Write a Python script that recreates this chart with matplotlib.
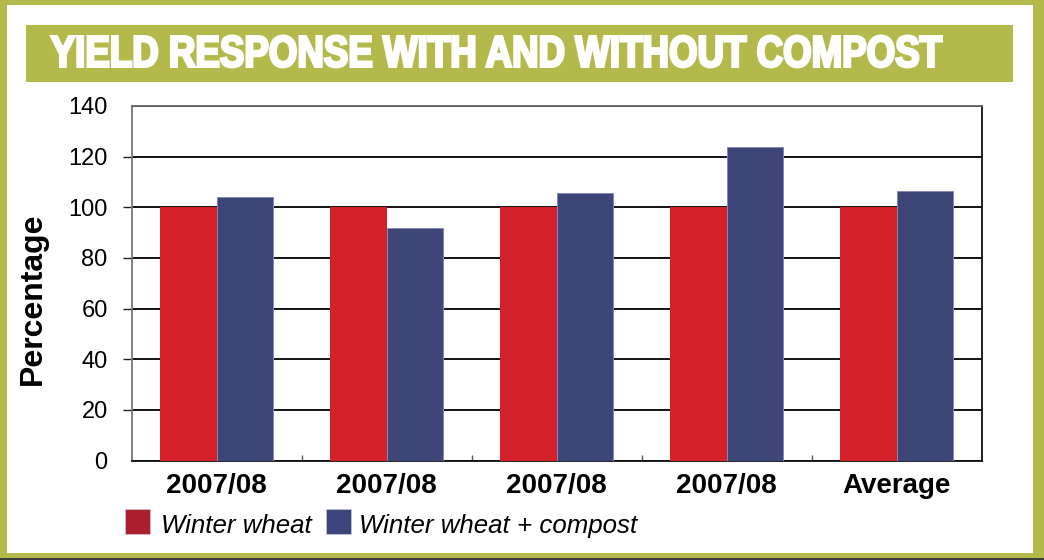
import matplotlib
matplotlib.use("Agg")
import matplotlib.pyplot as plt
from matplotlib.patches import Rectangle, PathPatch
from matplotlib.textpath import TextPath
from matplotlib.font_manager import FontProperties
from matplotlib.transforms import Affine2D
import numpy as np

# ---- data ----
categories = ["2007/08", "2007/08", "2007/08", "2007/08", "Average"]
winter_wheat = [100, 100, 100, 100, 100]
winter_wheat_compost = [104, 92, 105.5, 124, 106.3]
series_labels = ["Winter wheat", "Winter wheat + compost"]
yticks = [0, 20, 40, 60, 80, 100, 120, 140]
title = "YIELD RESPONSE WITH AND WITHOUT COMPOST"
ylabel = "Percentage"

OLIVE = "#b3ba4b"
RED = "#d32029"
BLUE = "#3d4579"
RED_LEG = "#ad1f2f"
BLUE_LEG = "#3c457b"

W, H = 1044, 560
fig = plt.figure(figsize=(W / 100, H / 100), dpi=100)

# overlay axes in pixel coordinates (y down)
bg = fig.add_axes([0, 0, 1, 1], zorder=0)
bg.set_xlim(0, W)
bg.set_ylim(H, 0)
bg.axis("off")
bg.add_patch(Rectangle((0, 0), W, H, facecolor=OLIVE, edgecolor="none"))
bg.add_patch(Rectangle((0, 557.5), W, 3, facecolor="#3a3a3a", edgecolor="none"))
bg.add_patch(Rectangle((7, 5), 1033 - 7, 553 - 5, facecolor="white", edgecolor="none"))
bg.add_patch(Rectangle((26, 25), 1013 - 26, 82 - 25, facecolor=OLIVE, edgecolor="none"))

# condensed heavy title through scaled text path
fp = FontProperties(family="Liberation Sans", weight="bold")
tp = TextPath((0, 0), title, size=100, prop=fp)
hp = TextPath((0, 0), "H", size=100, prop=fp)
ext = tp.get_extents()
cap = hp.get_extents().y1
stroke_px = 2.6
sx = (943 - 50 - stroke_px) / (ext.x1 - ext.x0)
sy = (33 - stroke_px) / cap
tr = Affine2D().translate(-ext.x0, 0).scale(sx, -sy).translate(50 + stroke_px / 2, 68 - stroke_px / 2)
bg.add_patch(PathPatch(tr.transform_path(tp), facecolor="white", edgecolor="white",
                       lw=stroke_px * 72 / 100, joinstyle="miter"))

# legend drawn manually
leg_items = [(125, RED_LEG, series_labels[0], 160.7), (325.7, BLUE_LEG, series_labels[1], 359)]
for x0, c, lab, tx in leg_items:
    bg.add_patch(Rectangle((x0, 508.6), 25, 25, facecolor=c, edgecolor="#c8c8d8", lw=0.5))
    bg.text(tx, 533, lab, fontsize=18.6, family="Liberation Sans", style="italic",
            va="baseline", ha="left", color="black")

# main axes
ax = fig.add_axes([131.7 / W, 1 - 460.5 / H, (981.7 - 131.7) / W, (460.5 - 106) / H], zorder=1)
ax.set_facecolor("white")
x = np.arange(len(categories))
bw = 1 / 3
ax.bar(x - bw / 2, winter_wheat, bw, color=RED, edgecolor="none", zorder=3)
ax.bar(x + bw / 2, winter_wheat_compost, bw, color=BLUE, edgecolor="#8589b3", lw=0.7, zorder=3)

ax.set_xlim(-0.5, len(categories) - 0.5)
ax.set_ylim(0, 140)
ax.set_yticks(yticks)
ax.set_yticklabels([str(v) for v in yticks], fontsize=17, family="Liberation Sans")
ax.tick_params(axis="y", direction="out", length=6.5, width=1.0, color="#222", pad=10.8)
yt = ax.yaxis.get_major_ticks()
yt[0].tick1line.set_visible(False)
yt[-1].tick1line.set_visible(False)
ax.yaxis.grid(True, color="black", lw=1.3, zorder=1)
ax.set_axisbelow(True)

ax.set_xticks(x)
ax.set_xticklabels(categories, fontsize=20, family="Liberation Sans", fontweight="bold")
ax.tick_params(axis="x", which="major", length=0, pad=9)
ax.set_xticks(np.arange(0.5, len(categories) - 0.5, 1), minor=True)
ax.tick_params(axis="x", which="minor", direction="in", length=4, width=1.0, color="#555")

for s, c in [("left", "#777777"), ("top", "#666666"), ("right", "#111111"), ("bottom", "#111111")]:
    ax.spines[s].set_color(c)
    ax.spines[s].set_linewidth(1.3)

fig.text(32.5 / W, 1 - 298.5 / H, ylabel, rotation=90, ha="center", va="center",
         fontsize=23, family="Liberation Sans", fontweight="bold", zorder=2)

fig.savefig("out.png", dpi=100)
